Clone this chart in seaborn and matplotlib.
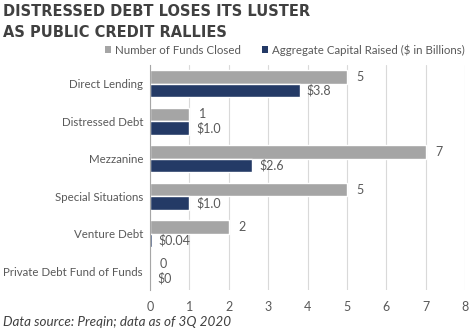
import matplotlib
matplotlib.use("Agg")
import matplotlib.pyplot as plt
import seaborn as sns
import pandas as pd
from matplotlib.patches import Patch

categories = ["Direct Lending", "Distressed Debt", "Mezzanine", "Special Situations",
              "Venture Debt", "Private Debt Fund of Funds"]
funds_closed = [5, 1, 7, 5, 2, 0]
capital_raised = [3.8, 1.0, 2.6, 1.0, 0.04, 0.0]
capital_labels = ["$3.8", "$1.0", "$2.6", "$1.0", "$0.04", "$0"]
series_names = ["Number of Funds Closed", "Aggregate Capital Raised ($ in Billions)"]
x_ticks = [0, 1, 2, 3, 4, 5, 6, 7, 8]

sns.set_theme(style="white")
plt.rcParams['font.family'] = ['Lato', 'DejaVu Sans']

df = pd.DataFrame({
    "category": categories * 2,
    "value": funds_closed + capital_raised,
    "series": [series_names[0]] * len(categories) + [series_names[1]] * len(categories),
})

gray = "#A5A5A5"
navy = "#243A66"
text_c = "#595959"

fig = plt.figure(figsize=(4.75, 3.34), dpi=100)
ax = fig.add_axes([150 / 475, 1 - 290 / 334, 315 / 475, 225 / 334])

sns.barplot(data=df, y="category", x="value", hue="series", orient="h",
            palette=[gray, navy], width=0.72, ax=ax, legend=False, saturation=1)

ax.set_xlim(0, 8)
ax.set_xticks(x_ticks)
ax.set_xticklabels([str(t) for t in x_ticks], fontsize=9, color=text_c)
ax.tick_params(axis="x", length=0, pad=8)
ax.tick_params(axis="y", length=0, pad=5, labelsize=8.3, labelcolor=text_c)
ax.set_xlabel("")
ax.set_ylabel("")
ax.grid(axis="x", color="#D9D9D9", linewidth=0.8)
ax.set_axisbelow(True)
for s in ["top", "right", "bottom"]:
    ax.spines[s].set_visible(False)
ax.spines["left"].set_color("#A6A6A6")
ax.spines["left"].set_linewidth(0.8)

# value labels
containers = ax.containers
ax.bar_label(containers[0], labels=[str(v) for v in funds_closed], padding=7,
             fontsize=9, color=text_c)
ax.bar_label(containers[1], labels=capital_labels, padding=5,
             fontsize=9, color=text_c)

fig.text(0.006, 1 - 22 / 334, "DISTRESSED DEBT LOSES ITS LUSTER\nAS PUBLIC CREDIT RALLIES",
         fontsize=10.5, fontweight="bold", color="#404040", va="center", ha="left",
         linespacing=1.45, family=['DejaVu Sans'])

handles = [Patch(facecolor=gray, edgecolor="none"), Patch(facecolor=navy, edgecolor="none")]
fig.legend(handles, series_names, loc="center right", bbox_to_anchor=(1.0, 1 - 50 / 334),
           ncol=2, frameon=False, fontsize=8.3, handlelength=0.6, handleheight=0.6,
           handletextpad=0.3, columnspacing=1.8, labelcolor=text_c)

fig.text(0.006, 1 - 322 / 334, "Data source: Preqin; data as of 3Q 2020",
         fontsize=9.7, style="italic", color="#404040", va="center", ha="left")

fig.savefig("out.png", dpi=100)
